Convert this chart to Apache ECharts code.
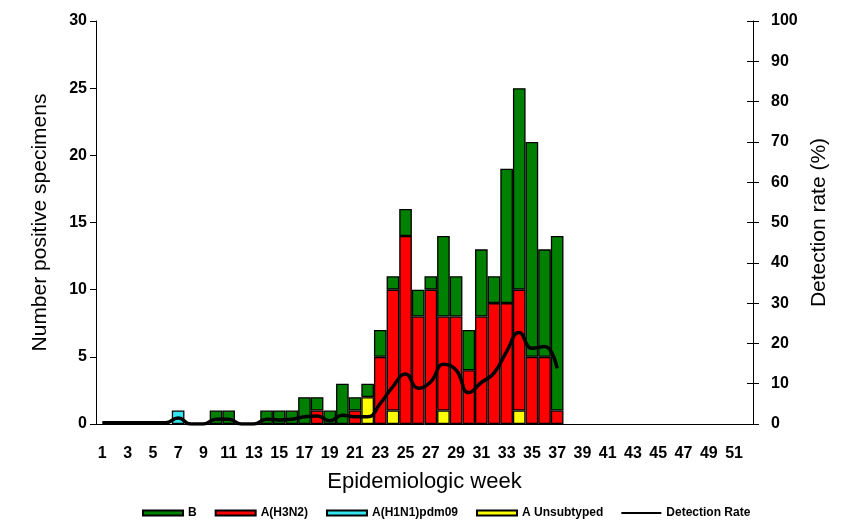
<!DOCTYPE html>
<html>
<head>
<meta http-equiv="content-type" content="text/html; charset=UTF-8">
<title>Epidemiologic week</title>
<script src="https://cdn.jsdelivr.net/npm/echarts@6/dist/echarts.min.js"></script>
<style>
  html, body { margin: 0; padding: 0; background: #fff; }
</style>
</head>
<body>
	<div id="main" style="width: 865px; height: 531px;"></div>
	<script type="text/javascript">

        // weeks 1..52
        var weeks = [];
        for (var w = 1; w <= 52; w++) weeks.push(String(w));

        // counts per week (weeks 1..37, later weeks empty)
        var seriesB =      [0,0,0,0,0,0,0,0,0,1, 1,0,0,1,1,1,2,1,1,3, 1,1,2,1,2,2,1,6,3,3, 5,2,10,15,16,8,13];
        var seriesH3N2 =   [0,0,0,0,0,0,0,0,0,0, 0,0,0,0,0,0,0,1,0,0, 1,0,5,9,14,8,10,7,8,4, 8,9,9,9,5,5,1];
        var seriesH1N1 =   [0,0,0,0,0,0,1,0,0,0, 0,0,0,0,0,0,0,0,0,0, 0,0,0,0,0,0,0,0,0,0, 0,0,0,0,0,0,0];
        var seriesUnsub =  [0,0,0,0,0,0,0,0,0,0, 0,0,0,0,0,0,0,0,0,0, 0,2,0,1,0,0,0,1,0,0, 0,0,0,1,0,0,0];
        // detection rate (%)
        var detectionRate = [0.3,0.3,0.3,0.3,0.3,0.3,1.5,0,0,1.2, 1.2,0,0,1.2,1.0,1.2,1.8,2.0,0.8,2.2,
                             1.8,1.8,5.1,9.3,12.4,8.9,10.5,14.8,13.4,7.8, 10.3,12.6,18,22.7,18.8,19.2,13.8];

        var leftTicks = [0, 30, 5];
        var rightTicks = [0, 100, 10];

        function toBars(arr) {
            var out = [];
            for (var i = 0; i < weeks.length; i++) {
                var v = arr[i];
                out.push(v ? v : '-');
            }
            return out;
        }

        var font = 'Liberation Sans, Arial, sans-serif';

        function barSeries(name, arr, color) {
            return {
                name: name,
                type: 'bar',
                stack: 'cnt',
                barCategoryGap: '0%',
                data: toBars(arr),
                itemStyle: { color: color, borderColor: '#000', borderWidth: 1.3 },
                silent: true
            };
        }

        var myChart = echarts.init(document.getElementById('main'));

        var option = {
            animation: false,
            backgroundColor: '#fff',
            textStyle: { fontFamily: font },
            grid: { left: 96, right: 112, top: 21, bottom: 107 },
            legend: {
                left: 137, top: 502,
                itemWidth: 40, itemHeight: 5, itemGap: 18,
                textStyle: { fontFamily: font, fontSize: 12, fontWeight: 'bold', color: '#000' },
                data: [
                    { name: 'B', icon: 'rect' },
                    { name: 'A(H3N2)', icon: 'rect' },
                    { name: 'A(H1N1)pdm09', icon: 'rect' },
                    { name: 'A Unsubtyped', icon: 'rect' },
                    { name: 'Detection Rate', icon: 'path://M0,0H40V2H0Z', itemStyle: { color: '#000', borderWidth: 0 } }
                ]
            },
            xAxis: {
                type: 'category',
                data: weeks,
                name: 'Epidemiologic week',
                nameLocation: 'middle',
                nameGap: 47,
                nameTextStyle: { fontSize: 22, color: '#000', fontFamily: font },
                axisLine: { lineStyle: { color: '#000', width: 1 } },
                axisTick: { interval: 0, length: 5, lineStyle: { color: '#000' } },
                axisLabel: { interval: 1, margin: 22, fontSize: 16, fontWeight: 'bold', color: '#000', fontFamily: font }
            },
            yAxis: [{
                type: 'value',
                min: leftTicks[0], max: leftTicks[1], interval: leftTicks[2],
                name: 'Number positive specimens',
                nameLocation: 'middle',
                nameGap: 45,
                nameTextStyle: { fontSize: 21, color: '#000', fontFamily: font },
                axisLine: { show: true, lineStyle: { color: '#000' } },
                axisTick: { show: true, length: 6, lineStyle: { color: '#000' } },
                axisLabel: { margin: 9, fontSize: 16, fontWeight: 'bold', color: '#000', fontFamily: font },
                splitLine: { show: false }
            }, {
                type: 'value',
                position: 'right',
                min: rightTicks[0], max: rightTicks[1], interval: rightTicks[2],
                name: 'Detection rate (%)',
                nameLocation: 'middle',
                nameGap: 55,
                nameTextStyle: { fontSize: 21, color: '#000', fontFamily: font },
                axisLine: { show: true, lineStyle: { color: '#000' } },
                axisTick: { show: true, length: 6, lineStyle: { color: '#000' } },
                axisLabel: { margin: 18, fontSize: 16, fontWeight: 'bold', color: '#000', fontFamily: font },
                splitLine: { show: false }
            }, {
                // inner half of the crossing ticks on the right axis
                type: 'value',
                position: 'right',
                min: rightTicks[0], max: rightTicks[1], interval: rightTicks[2],
                axisLine: { show: false },
                axisTick: { show: true, inside: true, length: 6, lineStyle: { color: '#000' } },
                axisLabel: { show: false },
                splitLine: { show: false }
            }],
            series: [
                barSeries('A Unsubtyped', seriesUnsub, '#FFFF00'),
                barSeries('A(H1N1)pdm09', seriesH1N1, '#33E6F2'),
                barSeries('A(H3N2)', seriesH3N2, '#FF0000'),
                barSeries('B', seriesB, '#008000'),
                {
                    name: 'Detection Rate',
                    type: 'line',
                    yAxisIndex: 1,
                    smooth: 0.5,
                    symbol: 'none',
                    data: detectionRate,
                    lineStyle: { color: '#000', width: 3.5 },
                    itemStyle: { color: '#000' },
                    z: 5
                }
            ]
        };

        myChart.setOption(option);
    </script>
</body>
</html>
